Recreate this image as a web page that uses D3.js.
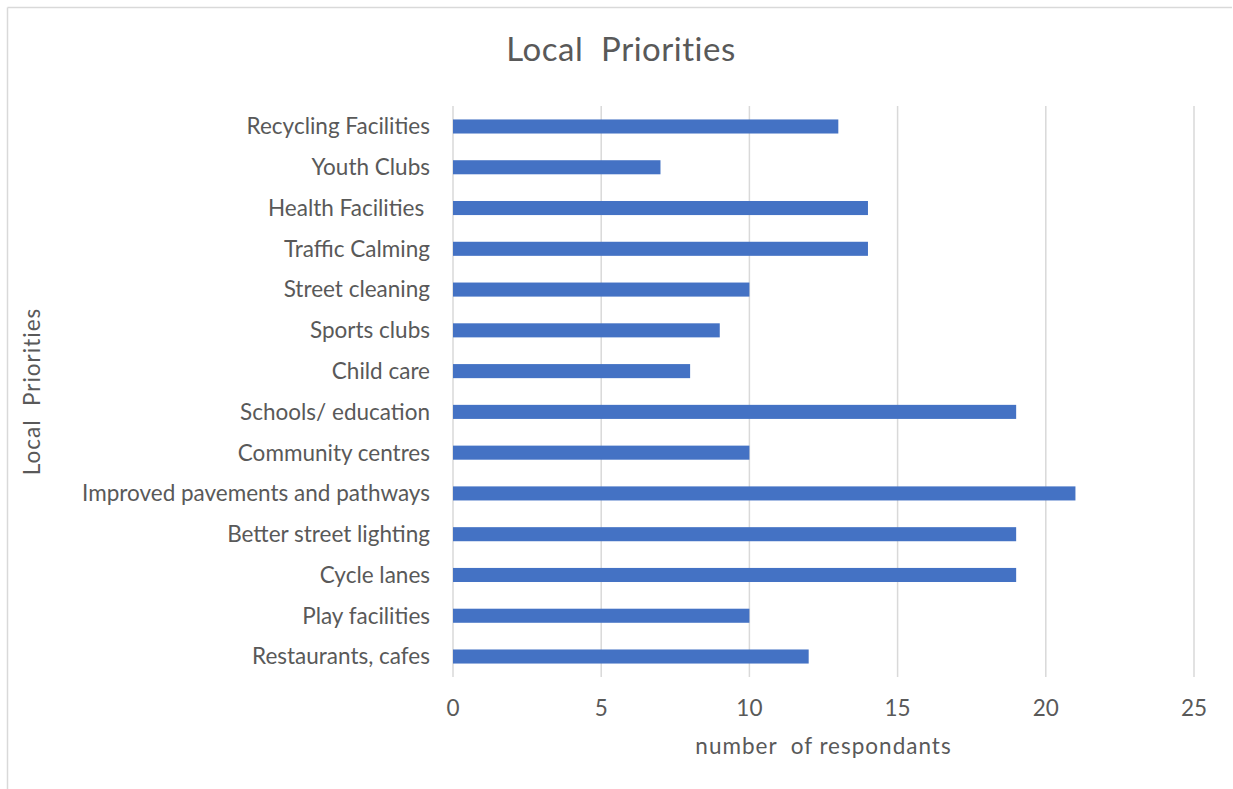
<!DOCTYPE html>
<html>
<head>
<meta charset="utf-8">
<script src="https://cdn.jsdelivr.net/npm/d3@7"></script>
<style>
  body { margin: 0; background: #fff; }
  text { font-family: Lato, "Open Sans", sans-serif; fill: #595959; white-space: pre; }
</style>
</head>
<body>
<div class="chart"></div>
<script>
const width = 1233, height = 789;

// data, top to bottom as drawn
const categories = ["Recycling Facilities", "Youth Clubs", "Health Facilities ", "Traffic Calming",
    "Street cleaning", "Sports clubs", "Child care", "Schools/ education", "Community centres",
    "Improved pavements and pathways", "Better street lighting", "Cycle lanes",
    "Play facilities", "Restaurants, cafes"];
const values = [13, 7, 14, 14, 10, 9, 8, 19, 10, 21, 19, 19, 10, 12];
const xTicks = [0, 5, 10, 15, 20, 25];

const m = { top: 106, right: 39, bottom: 112, left: 453 };

const svg = d3.select(".chart")
    .append("svg")
    .attr("width", width)
    .attr("height", height);

// outer frame (top + left only visible)
svg.append("line").attr("x1", 7.5).attr("x2", 1232).attr("y1", 7.5).attr("y2", 7.5)
    .attr("stroke", "#d9d9d9").attr("stroke-width", 1.5);
svg.append("line").attr("x1", 7.5).attr("x2", 7.5).attr("y1", 7.5).attr("y2", height)
    .attr("stroke", "#d9d9d9").attr("stroke-width", 1.5);

const x = d3.scaleLinear().domain([0, 25]).range([m.left, width - m.right]);
const y = d3.scaleBand().domain(categories).range([m.top, height - m.bottom]).paddingInner(0.655).paddingOuter(0.33);

// gridlines
svg.append("g").selectAll("line").data(xTicks).join("line")
    .attr("x1", d => x(d)).attr("x2", d => x(d))
    .attr("y1", m.top).attr("y2", height - m.bottom)
    .attr("stroke", "#d9d9d9").attr("stroke-width", 1.5);

// bars
svg.append("g").selectAll("rect").data(values).join("rect")
    .attr("x", x(0))
    .attr("y", (d, i) => y(categories[i]))
    .attr("width", d => x(d) - x(0))
    .attr("height", y.bandwidth())
    .attr("fill", "#4472c4");

// category labels
svg.append("g").selectAll("text").data(categories).join("text")
    .attr("x", 430)
    .attr("y", d => y(d) + y.bandwidth() / 2)
    .attr("dy", "0.35em")
    .attr("text-anchor", "end")
    .attr("font-size", 22.5)
    .text(d => d);

// x tick labels
svg.append("g").selectAll("text").data(xTicks).join("text")
    .attr("x", d => x(d))
    .attr("y", 716)
    .attr("text-anchor", "middle")
    .attr("font-size", 22.5)
    .text(d => d);

// titles
svg.append("text")
    .attr("x", 621).attr("y", 61)
    .attr("text-anchor", "middle")
    .attr("font-size", 33)
    .attr("letter-spacing", 0.5)
    .text("Local  Priorities");

svg.append("text")
    .attr("x", (x(0) + x(25)) / 2).attr("y", 754)
    .attr("text-anchor", "middle")
    .attr("font-size", 22.5)
    .attr("letter-spacing", 1)
    .text("number  of respondants");

svg.append("text")
    .attr("transform", "translate(40," + ((m.top + height - m.bottom) / 2) + ") rotate(-90)")
    .attr("text-anchor", "middle")
    .attr("font-size", 22.5)
    .attr("letter-spacing", 1)
    .text("Local  Priorities");
</script>
</body>
</html>
